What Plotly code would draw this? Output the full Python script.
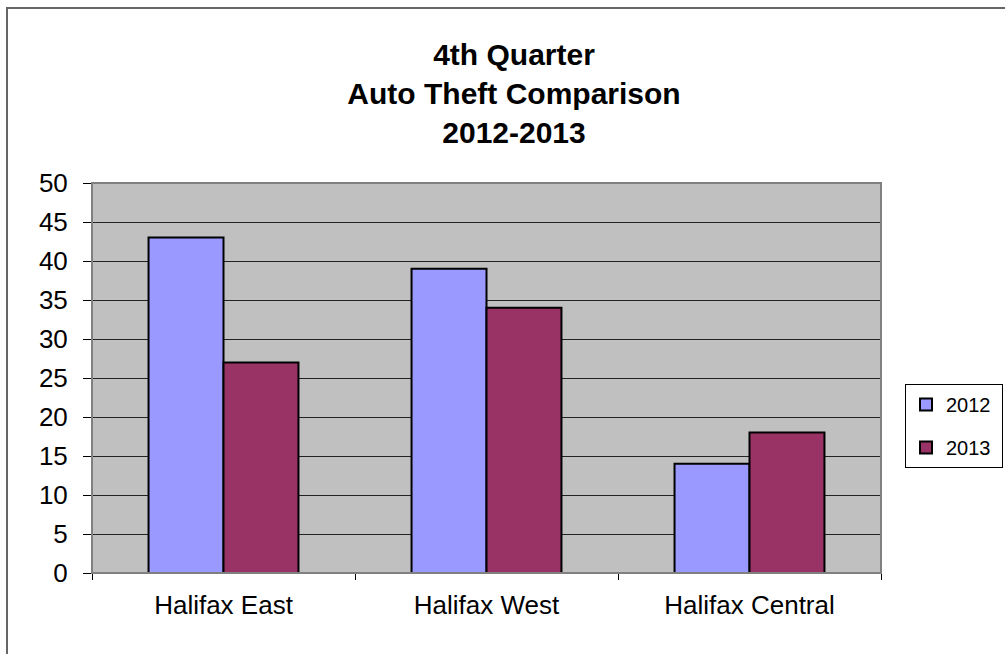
import plotly.graph_objects as go

categories = ["Halifax East", "Halifax West", "Halifax Central"]
series_names = ["2012", "2013"]
values_2012 = [43, 39, 14]
values_2013 = [27, 34, 18]
colors = ["#9999FF", "#993366"]
y_ticks = list(range(0, 55, 5))

W, H = 1005, 654
L, R, T, B = 92, 881, 183, 573  # plot area pixel bounds

def px_x(p):
    return (p - L) / (R - L)

def px_y(p):
    return (B - p) / (B - T)

FONT = "Arial, 'Liberation Sans', sans-serif"

fig = go.Figure()
for name, vals, col in zip(series_names, [values_2012, values_2013], colors):
    fig.add_trace(go.Bar(
        x=categories, y=vals, name=name + "\u00a0", legendgroup=name,
        marker=dict(color=col, line=dict(color="black", width=2)),
    ))

fig.update_layout(
    width=W, height=H,
    margin=dict(l=L, r=W - R, t=T, b=H - B, pad=0, autoexpand=False),
    paper_bgcolor="white",
    plot_bgcolor="#C0C0C0",
    barmode="group",
    bargap=0.43,
    bargroupgap=0,
    font=dict(family=FONT, color="black"),
    title=dict(
        text="4th Quarter<br>Auto Theft Comparison<br>2012-2013",
        font=dict(family=FONT, size=30, weight="bold", color="black"),
        xref="paper", x=px_x(514), xanchor="center",
        yref="container", y=1 - 65 / H, yanchor="middle",
    ),
    xaxis=dict(
        showgrid=False,
        showline=True, linecolor="black", linewidth=1,
        ticks="outside", ticklen=6, tickcolor="black", tickwidth=1,
        tickson="boundaries",
        tickfont=dict(family=FONT, size=26, color="black"),
        ticklabelstandoff=9,
    ),
    yaxis=dict(
        range=[0, 50], tickvals=y_ticks,
        showgrid=True, gridcolor="#222222", gridwidth=1,
        showline=True, linecolor="#808080", linewidth=1,
        ticks="outside", ticklen=8, tickcolor="black", tickwidth=1,
        tickfont=dict(family=FONT, size=26, color="black"),
        ticklabelstandoff=10,
        zeroline=False,
    ),
    showlegend=True,
    legend=dict(
        xref="container", x=905 / W, xanchor="left",
        yref="container", y=1 - 384 / H, yanchor="top",
        bordercolor="black", borderwidth=1,
        bgcolor="white",
        font=dict(family=FONT, size=20, color="black"),
        traceorder="grouped", tracegroupgap=14,
        itemwidth=30,
    ),
    shapes=[
        dict(type="rect", xref="paper", yref="paper",
             x0=0, x1=1, y0=0, y1=1,
             line=dict(color="#808080", width=2), layer="above"),
        dict(type="rect", xref="paper", yref="paper",
             x0=px_x(7), x1=px_x(1020), y0=px_y(670), y1=px_y(8),
             line=dict(color="#666666", width=2), layer="above"),
    ],
)

fig.write_html(
    "out.html",
    config={"displayModeBar": False},
    post_script="document.body.style.margin='0';document.body.style.overflow='hidden';",
)
